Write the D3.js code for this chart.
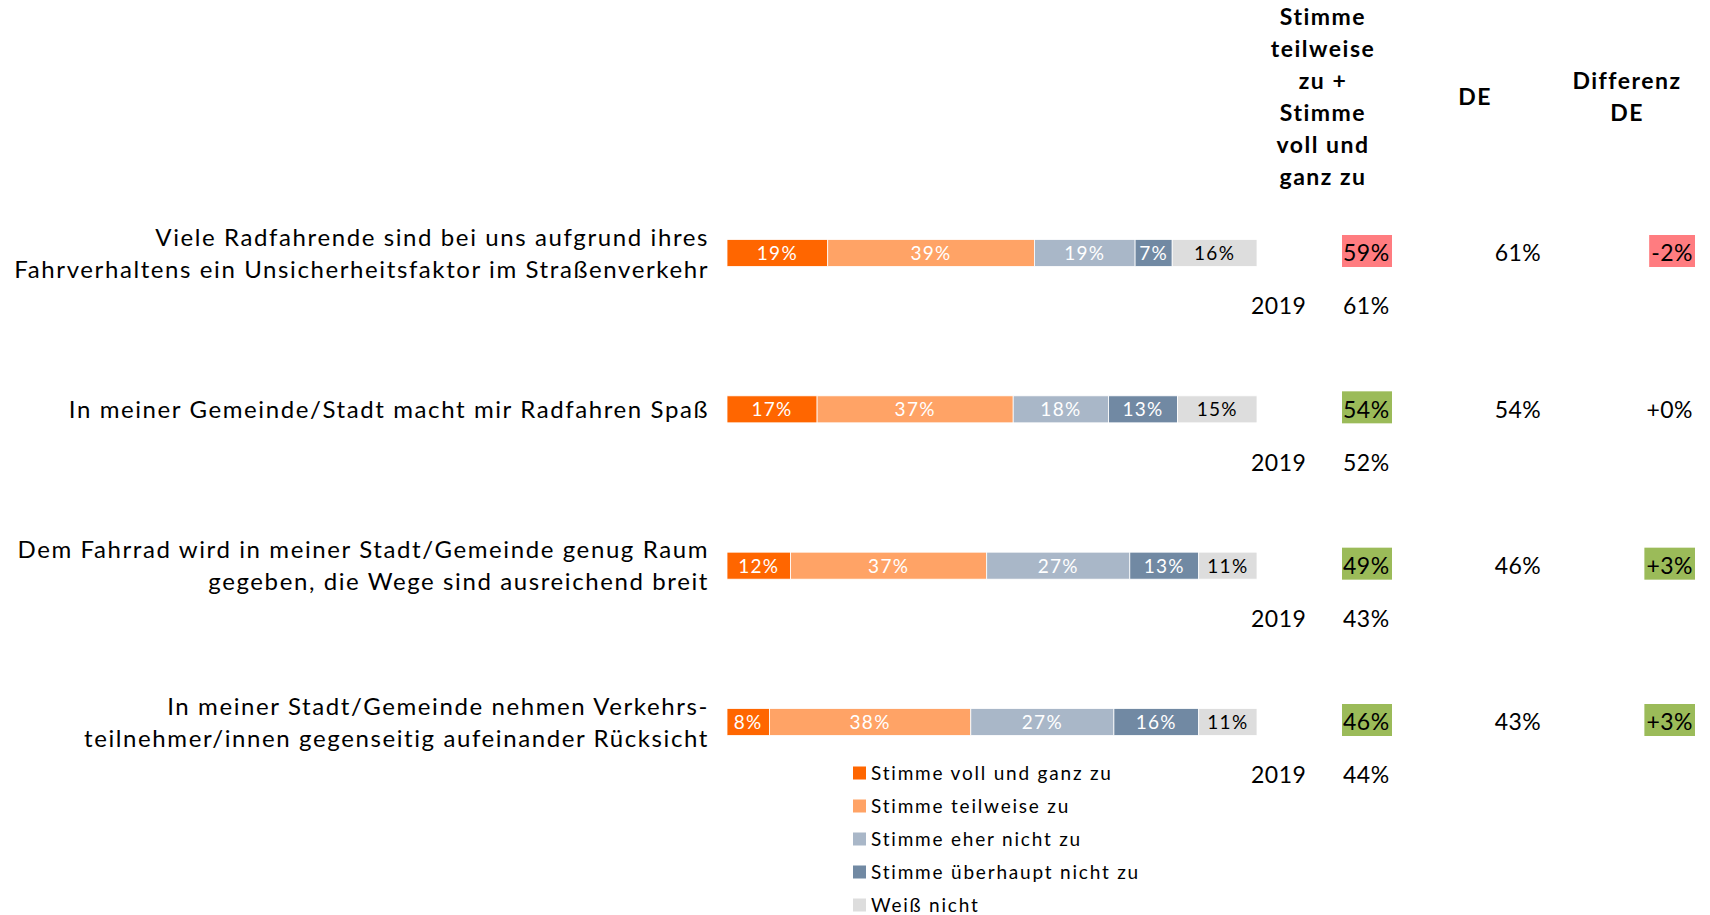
<!DOCTYPE html>
<html><head><meta charset="utf-8">
<script src="https://cdn.jsdelivr.net/npm/d3@7"></script>
<style>
html,body{margin:0;padding:0;background:#fff;}
text{font-family:Lato,"Open Sans",sans-serif;}
</style></head>
<body>
<svg id="chart" width="1710" height="915"></svg>
<script>
const questions = [
  ["Viele Radfahrende sind bei uns aufgrund ihres", "Fahrverhaltens ein Unsicherheitsfaktor im Straßenverkehr"],
  ["In meiner Gemeinde/Stadt macht mir Radfahren Spaß"],
  ["Dem Fahrrad wird in meiner Stadt/Gemeinde genug Raum", "gegeben, die Wege sind ausreichend breit"],
  ["In meiner Stadt/Gemeinde nehmen Verkehrs-", "teilnehmer/innen gegenseitig aufeinander Rücksicht"]
];
const seriesNames = ["Stimme voll und ganz zu","Stimme teilweise zu","Stimme eher nicht zu","Stimme überhaupt nicht zu","Weiß nicht"];
const seriesColors = ["#FF6600","#FFA366","#A9B7C8","#7189A3","#DDDDDD"];
const vollZu      = [19,17,12,8];
const teilweiseZu = [39,37,37,38];
const eherNicht   = [19,18,27,27];
const ueberhauptNicht = [7,13,13,16];
const weissNicht  = [16,15,11,11];
const zustimmung  = [59,54,49,46];
const zustimmung2019 = [61,52,43,44];
const deWerte     = [61,54,46,43];
const differenz   = [-2,0,3,3];
const headerLines = ["Stimme","teilweise","zu +","Stimme","voll und","ganz zu"];
const yearLabel = "2019";

const svg = d3.select("#chart");
const series = [vollZu, teilweiseZu, eherNicht, ueberhauptNicht, weissNicht];
const idx = d3.range(questions.length);

const x = d3.scaleLinear().domain([0,100]).range([727,1257]);
const y = d3.scalePoint().domain(idx).range([253,722]);
const barH = 27;

// stacked bars
const rows = idx.map(i => {
  const o = {i};
  seriesNames.forEach((s,k)=> o[s] = series[k][i]);
  return o;
});
const stack = d3.stack().keys(seriesNames)(rows);
const color = d3.scaleOrdinal().domain(seriesNames).range(seriesColors);

const layers = svg.append("g").selectAll("g").data(stack).join("g")
  .attr("fill", d => color(d.key));
layers.selectAll("rect").data(d => d.map(v => ({v, key: d.key}))).join("rect")
  .attr("x", d => x(d.v[0]))
  .attr("width", d => x(d.v[1]) - x(d.v[0]))
  .attr("y", d => y(d.v.data.i) - barH/2)
  .attr("height", barH)
  .attr("stroke", "#fff").attr("stroke-width", 0.8);
layers.selectAll("text").data(d => d.map(v => ({v, key: d.key}))).join("text")
  .attr("x", d => (x(d.v[0]) + x(d.v[1]))/2)
  .attr("y", d => y(d.v.data.i))
  .attr("dy", "0.36em")
  .attr("text-anchor", "middle")
  .attr("font-size", 19)
  .attr("letter-spacing", 1.3)
  .attr("fill", d => d.key === "Weiß nicht" ? "#000" : "#fff")
  .text(d => (d.v[1]-d.v[0]) + "%");

// question labels
const ql = svg.append("g");
idx.forEach(i => {
  const lines = questions[i];
  const lh = 32;
  lines.forEach((t, j) => {
    ql.append("text")
      .attr("x", 709)
      .attr("y", y(i) + (j - (lines.length-1)/2) * lh)
      .attr("dy", "0.36em")
      .attr("text-anchor", "end")
      .attr("font-size", 24)
      .attr("letter-spacing", 1.6)
      .attr("fill", "#000")
      .text(t);
  });
});

// headers
const hdr = svg.append("g").attr("font-weight", "bold").attr("font-size", 23).attr("letter-spacing", 1.5).attr("text-anchor","middle");
headerLines.forEach((t, j) => {
  hdr.append("text").attr("x", 1323).attr("y", 17 + j*32).attr("dy","0.36em").text(t);
});
hdr.append("text").attr("x", 1475).attr("y", 97).attr("dy","0.36em").text("DE");
hdr.append("text").attr("x", 1627).attr("y", 81).attr("dy","0.36em").text("Differenz");
hdr.append("text").attr("x", 1627).attr("y", 113).attr("dy","0.36em").text("DE");

const fmtPct = v => v + "%";
const fmtDiff = v => (v < 0 ? "-" : "+") + Math.abs(v) + "%";
const boxFill = v => v < 0 ? "#FF7C80" : (v > 0 ? "#9BBB59" : null);

const cols = svg.append("g").attr("font-size", 23).attr("letter-spacing", 0.5);
idx.forEach(i => {
  const cy = y(i);
  const d = differenz[i];
  const zFill = d < 0 ? "#FF7C80" : "#9BBB59";
  cols.append("rect").attr("x", 1342).attr("y", cy - 18).attr("width", 50).attr("height", 32).attr("fill", zFill);
  cols.append("text").attr("x", 1343).attr("y", cy).attr("dy","0.36em").text(fmtPct(zustimmung[i]));
  // 2019 row
  cols.append("text").attr("x", 1251).attr("y", cy + 53).attr("dy","0.36em").text(yearLabel);
  cols.append("text").attr("x", 1343).attr("y", cy + 53).attr("dy","0.36em").text(fmtPct(zustimmung2019[i]));
  // DE
  cols.append("text").attr("x", 1518).attr("y", cy).attr("dy","0.36em").attr("text-anchor","middle").text(fmtPct(deWerte[i]));
  // Differenz
  const bf = boxFill(d);
  const t = cols.append("text").attr("x", 1693).attr("y", cy).attr("dy","0.36em").attr("text-anchor","end").text(fmtDiff(d));
  if (bf) {
    const bb = t.node().getBBox();
    cols.insert("rect", () => t.node()).attr("x", bb.x - 2).attr("y", cy - 18).attr("width", 1695 - (bb.x - 2)).attr("height", 32).attr("fill", bf);
  }
});

// legend
const lg = svg.append("g").selectAll("g").data(seriesNames).join("g")
  .attr("transform", (d, k) => `translate(853, ${773 + k*33})`);
lg.append("rect").attr("x", 0).attr("y", -6.5).attr("width", 13).attr("height", 13).attr("fill", d => color(d));
lg.append("text").attr("x", 18).attr("y", 0).attr("dy", "0.36em").attr("font-size", 19).attr("letter-spacing", 1.8).text(d => d);
</script>
</body></html>
